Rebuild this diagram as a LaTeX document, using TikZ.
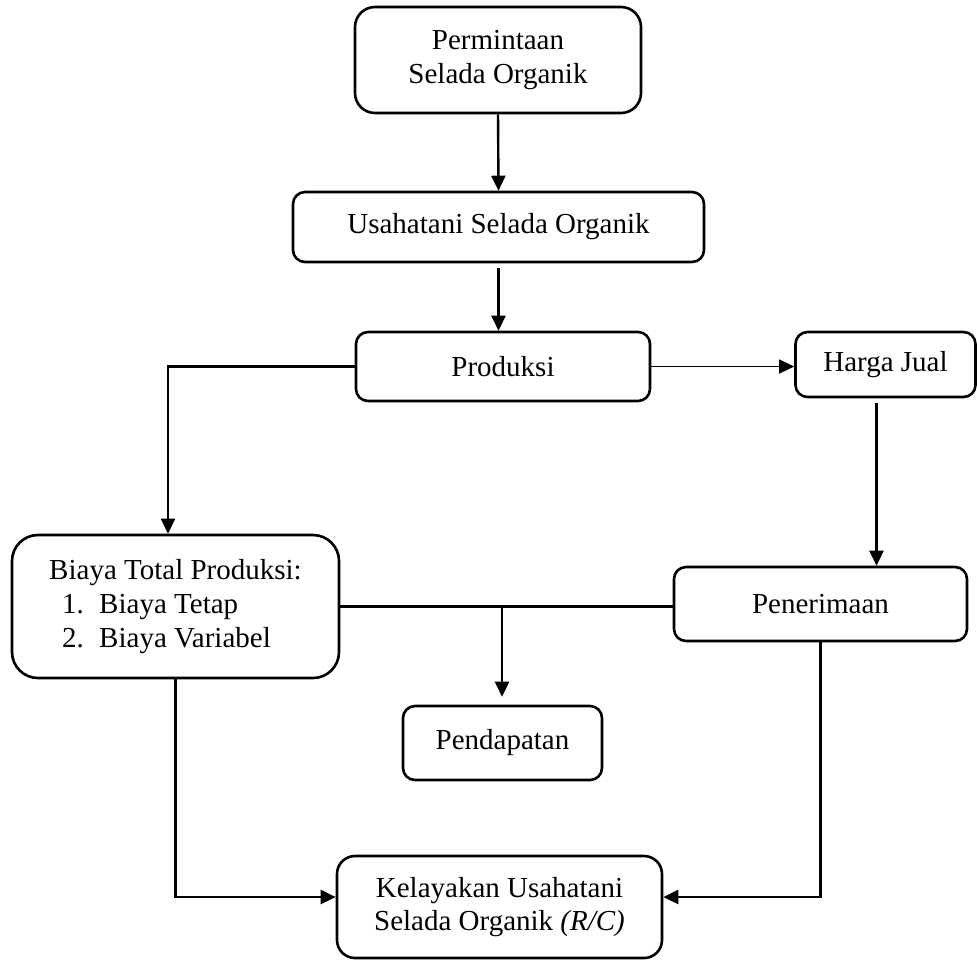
\documentclass[tikz,border=0pt]{standalone}
\usepackage{fontspec}
\setmainfont{Liberation Serif}
\usetikzlibrary{arrows.meta,calc}
\newcommand{\fs}{\fontsize{14.5}{16.8}\selectfont}
\begin{document}
\begin{tikzpicture}[x=0.5pt,y=-0.5pt,
  box/.style={draw, line width=1.3pt, rounded corners=6pt, inner sep=0pt, align=center, font=\fs},
  conn/.style={line width=1.2pt},
  arr/.style={conn, -{Triangle[length=7.5pt,width=7pt]}},
  thinarr/.style={line width=0.5pt, -{Triangle[length=7.5pt,width=7pt]}}]
\useasboundingbox (0,0) rectangle (977,960);
\node[box, rounded corners=10pt, minimum width=143pt, minimum height=53pt] (perm) at (498,60) {Permintaan\\Selada Organik};
\node[box, minimum width=205.5pt, minimum height=35pt] (usa) at (498.5,227) {Usahatani Selada Organik};
\node[box, minimum width=147pt, minimum height=34.5pt] (prod) at (503,366.5) {Produksi};
\node[box, minimum width=90pt, minimum height=32.5pt] (harga) at (885.5,364.5) {Harga Jual};
\node[box, rounded corners=13pt, align=left, minimum width=163.5pt, minimum height=71.5pt] (biaya) at (175.5,606.5)
  {Biaya Total Produksi:\\\hspace*{6.5pt}\makebox[18.5pt][l]{1.}Biaya Tetap\\\hspace*{6.5pt}\makebox[18.5pt][l]{2.}Biaya Variabel};
\node[box, minimum width=146.5pt, minimum height=37pt] (pen) at (820.5,604) {Penerimaan};
\node[box, minimum width=99.5pt, minimum height=37pt] (pend) at (502.5,743) {Pendapatan};
\node[box, rounded corners=9pt, minimum width=162.5pt, minimum height=51pt] (kel) at (499.5,907) {Kelayakan Usahatani\\Selada Organik \textit{(R/C)}};

\draw[arr] (perm.south) -- (usa.north);
\draw[arr] ([yshift=-2.5pt]usa.south) -- (usa.south |- prod.north);
\draw[arr] (prod.west) -| ([xshift=-3.75pt]biaya.north);
\draw[thinarr] (prod.east) -- (prod.east -| harga.west);
\coordinate (hs) at ([xshift=-4.5pt,yshift=-2.5pt]harga.south);
\draw[arr] (hs) -- (hs |- pen.north);
\draw[conn] (biaya.east) -- (biaya.east -| pen.west);
\coordinate (j) at (502,606.5);
\draw[arr, shorten >=4pt] (j) -- (j |- pend.north);
\draw[arr] (biaya.south) |- ([yshift=5pt]kel.west);
\draw[arr] (pen.south) |- ([yshift=5pt]kel.east);
\end{tikzpicture}
\end{document}
